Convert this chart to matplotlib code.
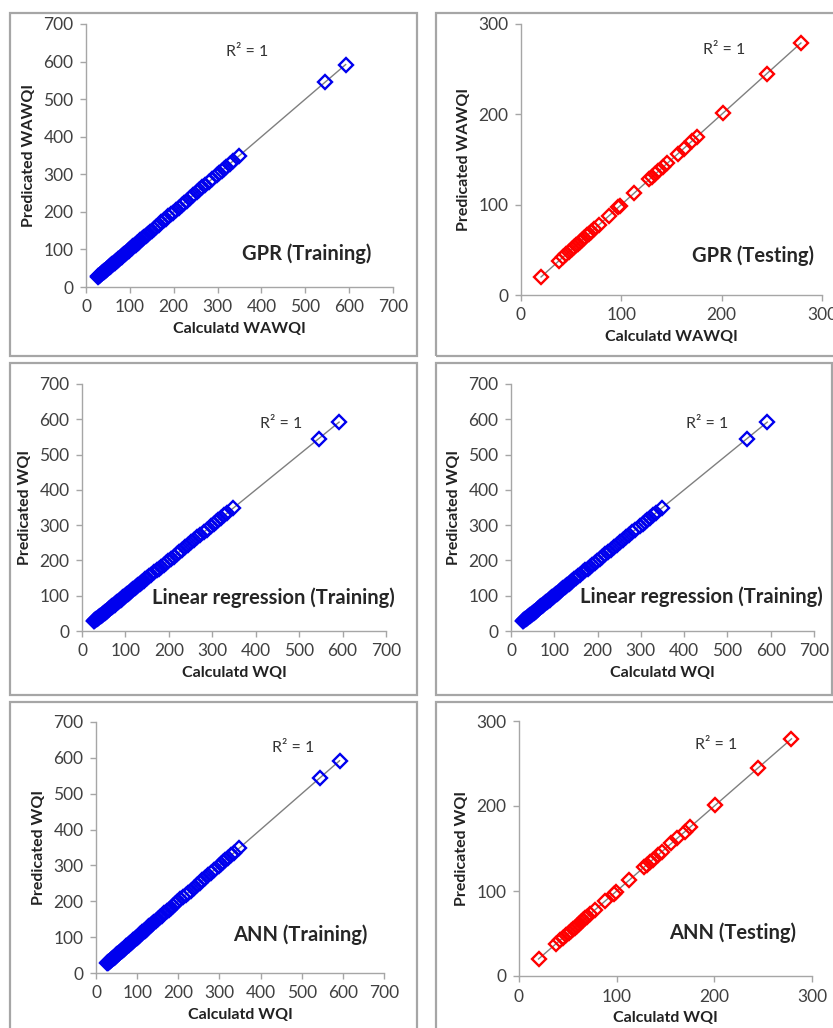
import matplotlib
matplotlib.use("Agg")
import matplotlib.pyplot as plt
import numpy as np
from matplotlib.patches import Rectangle

plt.rcParams['font.family'] = ['Lato', 'DejaVu Sans']

# ---- data ----
train_calc = [27, 28, 30, 31, 33, 34, 36, 37, 39, 40, 42, 43, 45, 46, 48, 49, 51, 52,
              54, 55, 57, 58, 60, 62, 63, 65, 67, 68, 70, 72, 74, 75, 77, 79, 81, 83,
              85, 87, 89, 91, 93, 95, 97, 99, 101, 104, 106, 108, 111, 113, 116, 118,
              121, 124, 127, 130, 133, 136, 139, 142, 146, 150, 155, 160, 166, 172,
              177, 182, 188, 193, 198, 205, 211, 218, 223, 230, 238, 245, 252, 258,
              265, 272, 280, 287, 298, 304, 309, 314, 320, 328, 335, 348, 545, 592]
train_pred = list(train_calc)  # R^2 = 1: predicted equals calculated

test_calc = [20, 38, 42, 45, 48, 51, 53, 55, 57, 59, 61, 63, 66, 68, 70, 73, 78, 88,
             97, 99, 113, 128, 131, 134, 137, 142, 146, 156, 162, 170, 175, 201, 245, 279]
test_pred = list(test_calc)

panel_titles = ["GPR (Training)", "GPR (Testing)",
                "Linear regression (Training)", "Linear regression (Training)",
                "ANN (Training)", "ANN (Testing)"]
x_labels = ["Calculatd WAWQI", "Calculatd WAWQI", "Calculatd WQI", "Calculatd WQI",
            "Calculatd WQI", "Calculatd WQI"]
y_labels = ["Predicated WAWQI", "Predicated WAWQI", "Predicated WQI", "Predicated WQI",
            "Predicated WQI", "Predicated WQI"]
r2_text = "R\u00b2 = 1"

W, H = 833, 1028
fig = plt.figure(figsize=(W / 100, H / 100), dpi=100)

def px_rect(l, r, t, b):
    return [l / W, 1 - b / H, (r - l) / W, (b - t) / H]

# panel borders
borders = [(10, 417, 13, 356), (436, 840, 13, 356),
           (10, 417, 363, 695), (436, 832, 363, 695),
           (10, 417, 702, 1040), (436, 840, 702, 1040)]
for (l, r, t, b) in borders:
    fig.patches.append(Rectangle((l / W, 1 - b / H), (r - l) / W, (b - t) / H,
                                 transform=fig.transFigure, fill=False,
                                 edgecolor='#a6a6a6', linewidth=1.6, zorder=0))

axes_px = [(86, 393, 24, 287), (521, 822, 24, 295),
           (82, 386, 384, 631), (511, 814, 384, 631),
           (96, 384, 722, 973), (519, 812, 721, 976)]

title_pos = [(0.72, 0.125), (0.77, 0.144), (0.63, 0.134), (0.627, 0.138),
             (0.71, 0.151), (0.728, 0.169)]
r2_pos = [(0.456, 0.894), (0.605, 0.904), (0.585, 0.84), (0.578, 0.84),
          (0.61, 0.896), (0.60, 0.906)]

for i in range(6):
    ax = fig.add_axes(px_rect(*axes_px[i]))
    testing = (i % 2 == 1) and i != 3
    if testing:
        xs, ys, col, lim, step = test_calc, test_pred, '#ff0000', 300, 100
    else:
        xs, ys, col, lim, step = train_calc, train_pred, '#0000ee', 700, 100
    # trend line (linear fit across data range)
    k, c = np.polyfit(xs, ys, 1)
    xl = np.array([min(xs), max(xs)])
    ax.plot(xl, k * xl + c, color='#7f7f7f', lw=1.0, zorder=2)
    ax.plot(xs, ys, linestyle='none', marker='D', markersize=6.8,
            markerfacecolor='none', markeredgecolor=col, markeredgewidth=1.7, zorder=3)
    ax.set_xlim(0, lim)
    ax.set_ylim(0, lim)
    ax.set_xticks(np.arange(0, lim + 1, step))
    ax.set_yticks(np.arange(0, lim + 1, step))
    for s in ['top', 'right']:
        ax.spines[s].set_visible(False)
    for s in ['left', 'bottom']:
        ax.spines[s].set_color('#a6a6a6')
        ax.spines[s].set_linewidth(1.0)
    ax.tick_params(direction='out', length=4, width=1.0, color='#a6a6a6',
                   labelcolor='#404040', labelsize=12.5, pad=5)
    ax.set_xlabel(x_labels[i], fontsize=11.5, fontweight='bold', color='#222222', labelpad=5)
    ax.set_ylabel(y_labels[i], fontsize=11.5, fontweight='bold', color='#222222', labelpad=5)
    ax.text(*title_pos[i], panel_titles[i], transform=ax.transAxes, ha='center',
            va='center', fontsize=14.5, fontweight='bold', color='#262626', clip_on=False)
    ax.text(*r2_pos[i], r2_text, transform=ax.transAxes, ha='left', va='center',
            fontsize=11.5, color='#333333')
    ax.patch.set_alpha(0)

fig.savefig('out.png', dpi=100)
